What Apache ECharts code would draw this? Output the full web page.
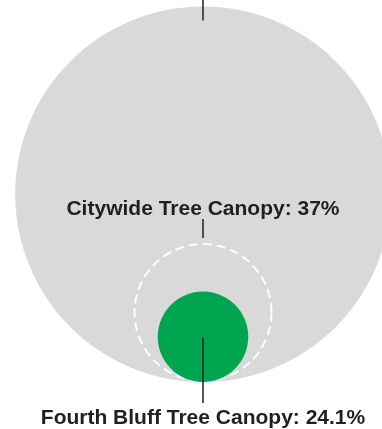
<!DOCTYPE html>
<html>
<head>
<meta charset="utf-8">
<script src="https://cdn.jsdelivr.net/npm/echarts@6/dist/echarts.min.js"></script>
<style>
  html, body { margin: 0; padding: 0; background: #fff; }
  #chart { width: 382px; height: 429px; }
</style>
</head>
<body>
<div id="chart"></div>
<script>
// Nested circles, all resting on a shared baseline; radius follows the share.
const areaNames = ['', 'Citywide Tree Canopy', 'Fourth Bluff Tree Canopy'];
const areaValues = [100, 37, 24.1];
const areaKinds = ['base', 'outline', 'fill'];

const COLORS = { base: '#d9d9d9', outline: '#ffffff', fill: '#00a54f', ink: '#231f20' };
const FONT = 'bold 21px "Liberation Sans", Arial, sans-serif';

// pixels per percentage point, and where the shared baseline sits
const PX = 1.878;
const CENTER_X = 203;
const BASE_Y = 382;
const W = 382, H = 429;

const chart = echarts.init(document.getElementById('chart'), null, { renderer: 'canvas' });

function renderItem(params, api) {
  const v = api.value(1);
  const kind = areaKinds[params.dataIndex];
  const name = areaNames[params.dataIndex];
  const c = api.coord([0, v]);
  const r = api.size([v, v])[0];
  const children = [];

  if (kind === 'base') {
    children.push({ type: 'circle', shape: { cx: c[0], cy: c[1], r: r }, style: { fill: COLORS.base }, z2: 0 });
    children.push({ type: 'line', shape: { x1: c[0], y1: 0, x2: c[0], y2: c[1] - r + 14 },
      style: { stroke: COLORS.ink, lineWidth: 1.5 }, z2: 5 });
  } else if (kind === 'outline') {
    children.push({ type: 'circle', shape: { cx: c[0], cy: c[1], r: r - 1 },
      style: { fill: null, stroke: COLORS.outline, lineWidth: 2, lineDash: [9, 5] }, z2: 1 });
    const top = c[1] - r;
    children.push({ type: 'line', shape: { x1: c[0], y1: top - 24, x2: c[0], y2: top - 5 },
      style: { stroke: COLORS.ink, lineWidth: 1.5 }, z2: 5 });
    children.push({ type: 'text', style: { x: c[0], y: top - 34, text: name + ': ' + v + '%',
      font: FONT, fill: COLORS.ink, align: 'center', verticalAlign: 'middle' }, z2: 6 });
  } else {
    children.push({ type: 'circle', shape: { cx: c[0], cy: c[1], r: r }, style: { fill: COLORS.fill }, z2: 2 });
    children.push({ type: 'line', shape: { x1: c[0], y1: c[1] + 1, x2: c[0], y2: c[1] + r + 21 },
      style: { stroke: COLORS.ink, lineWidth: 1.5 }, z2: 5 });
    children.push({ type: 'text', style: { x: c[0], y: c[1] + r + 36, text: name + ': ' + v + '%',
      font: FONT, fill: COLORS.ink, align: 'center', verticalAlign: 'middle' }, z2: 6 });
  }
  return { type: 'group', children: children };
}

chart.setOption({
  animation: false,
  grid: { left: 0, top: 0, width: W, height: H, containLabel: false },
  xAxis: { type: 'value', min: -CENTER_X / PX, max: (W - CENTER_X) / PX, show: false },
  yAxis: { type: 'value', min: -(H - BASE_Y) / PX, max: BASE_Y / PX, show: false },
  series: [{
    type: 'custom',
    clip: false,
    renderItem: renderItem,
    data: areaValues.map((v) => [0, v])
  }]
});
</script>
</body>
</html>
